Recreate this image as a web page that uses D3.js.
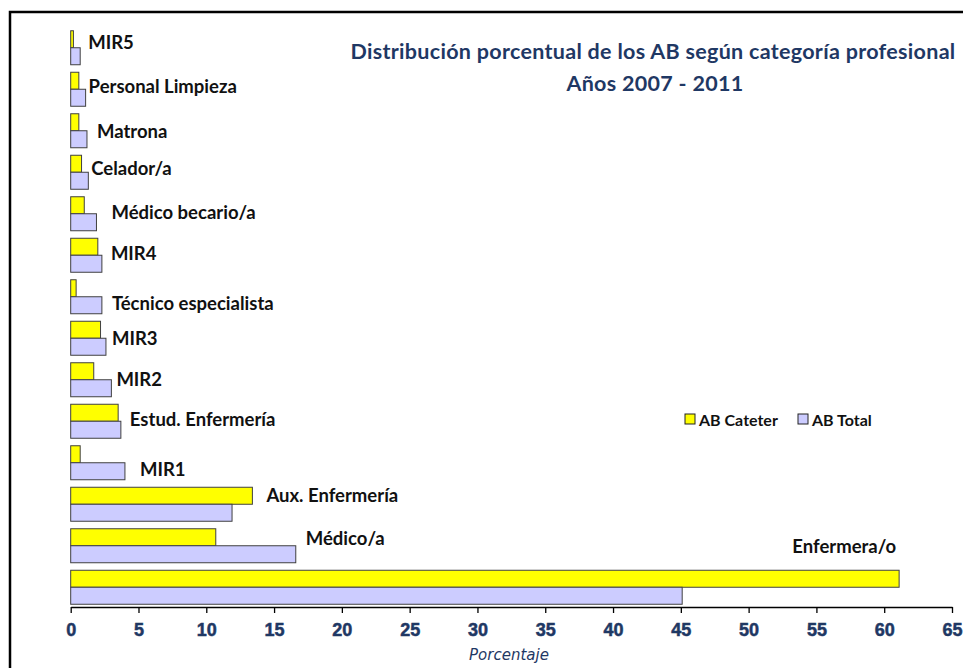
<!DOCTYPE html>
<html>
<head>
<meta charset="utf-8">
<script src="https://cdn.jsdelivr.net/npm/d3@7/dist/d3.min.js"></script>
<style>
  html, body { margin: 0; padding: 0; background: #fff; }
  svg { display: block; }
</style>
</head>
<body>
<svg id="chart" width="963" height="668"></svg>
<script>
// Professional categories, listed top to bottom
const categories = [
  "MIR5", "Personal Limpieza", "Matrona", "Celador/a", "Médico becario/a",
  "MIR4", "Técnico especialista", "MIR3", "MIR2", "Estud. Enfermería",
  "MIR1", "Aux. Enfermería", "Médico/a", "Enfermera/o"
];
// Percentage of catheter-related infections (AB Cateter)
const abCateter = [0.2, 0.6, 0.6, 0.8, 1.0, 2.0, 0.4, 2.2, 1.7, 3.5, 0.7, 13.4, 10.7, 61.1];
// Percentage of all infections (AB Total)
const abTotal   = [0.7, 1.1, 1.2, 1.3, 1.9, 2.3, 2.3, 2.6, 3.0, 3.7, 4.0, 11.9, 16.6, 45.1];
const seriesNames = ["AB Cateter", "AB Total"];
const xTicks = [0, 5, 10, 15, 20, 25, 30, 35, 40, 45, 50, 55, 60, 65];

// Hand placement of the category labels (offsets from the default spot)
const labelNudge = {
  "MIR5": [-1, -6], "Personal Limpieza": [-6, -3], "Matrona": [1, 0],
  "Celador/a": [-6, -4], "Médico becario/a": [6, -2], "MIR4": [0, -2],
  "Técnico especialista": [1, 6], "MIR3": [-3, 0], "MIR2": [-4, -1],
  "Estud. Enfermería": [0, -2], "MIR1": [6, 6], "Aux. Enfermería": [5, -9],
  "Médico/a": [1, -8]
};

const svg = d3.select("#chart");
const navy = "#1F3864";
const colors = ["#FFFF00", "#CCCCFF"];
const textFont = "Lato, 'Open Sans', sans-serif";

// Outer frame
svg.append("rect")
  .attr("x", 10).attr("y", 12)
  .attr("width", 1000).attr("height", 700)
  .attr("fill", "none").attr("stroke", "#000").attr("stroke-width", 2.5);

const x = d3.scaleLinear().domain([0, 65]).range([70.7, 952]);
const y = d3.scaleBand().domain(categories).range([27, 608]).padding(0);
const barH = 17;
const axisY = 607;

const rows = categories.map((c, i) => ({ cat: c, vals: [abCateter[i], abTotal[i]] }));

const g = svg.append("g");
rows.forEach(r => {
  const cy = y(r.cat) + y.bandwidth() / 2;
  r.vals.forEach((v, k) => {
    g.append("rect")
      .attr("x", x(0))
      .attr("y", cy - barH + k * barH)
      .attr("width", x(v) - x(0))
      .attr("height", barH)
      .attr("fill", colors[k])
      .attr("stroke", "#404040")
      .attr("stroke-width", 1);
  });
});

// Category labels
rows.forEach(r => {
  const cy = y(r.cat) + y.bandwidth() / 2;
  const t = svg.append("text")
    .text(r.cat)
    .attr("font-family", textFont)
    .attr("font-weight", "bold")
    .attr("font-size", 18.5)
    .attr("fill", "#111")
    .attr("dominant-baseline", "central");
  if (labelNudge[r.cat]) {
    const [dx, dy] = labelNudge[r.cat];
    t.attr("x", x(d3.max(r.vals)) + 9 + dx).attr("y", cy + dy);
  } else {
    // label sits above the bar, flush with its end
    t.attr("text-anchor", "end").attr("x", x(d3.max(r.vals)) - 3).attr("y", cy - 41);
  }
});

// X axis
const axis = svg.append("g")
  .attr("transform", `translate(0,${axisY})`)
  .call(d3.axisBottom(x).tickValues(xTicks).tickSize(6).tickSizeOuter(0).tickPadding(10));
axis.select(".domain").attr("stroke", "#000").attr("stroke-width", 1.3);
axis.selectAll(".tick line").attr("stroke", "#000").attr("stroke-width", 1.3);
axis.selectAll(".tick text")
  .attr("font-family", "'Liberation Sans Narrow', 'Liberation Sans', sans-serif")
  .attr("font-weight", "bold")
  .attr("font-size", 18)
  .attr("stroke", navy).attr("stroke-width", 0.5)
  .attr("fill", navy);

svg.append("text")
  .text("Porcentaje")
  .attr("x", 509).attr("y", 660)
  .attr("text-anchor", "middle")
  .attr("font-family", "'DejaVu Sans', sans-serif")
  .attr("font-style", "italic")
  .attr("font-size", 15)
  .attr("fill", navy);

// Title
const title = svg.append("text")
  .attr("text-anchor", "middle")
  .attr("font-family", textFont)
  .attr("font-weight", "bold")
  .attr("font-size", 21.5)
  .attr("letter-spacing", 0.3)
  .attr("fill", navy);
title.append("tspan").attr("x", 653).attr("y", 59)
  .text("Distribución porcentual de los AB según categoría profesional");
title.append("tspan").attr("x", 655).attr("y", 91)
  .text("Años 2007 - 2011");

// Legend
const legendItems = [
  { name: seriesNames[0], color: colors[0], sx: 685, tx: 699 },
  { name: seriesNames[1], color: colors[1], sx: 798, tx: 812 }
];
legendItems.forEach(it => {
  svg.append("rect")
    .attr("x", it.sx).attr("y", 414).attr("width", 10).attr("height", 10)
    .attr("fill", it.color).attr("stroke", "#222").attr("stroke-width", 1);
  svg.append("text")
    .text(it.name)
    .attr("x", it.tx).attr("y", 419)
    .attr("dominant-baseline", "central")
    .attr("font-family", textFont)
    .attr("font-weight", "bold")
    .attr("font-size", 16)
    .attr("fill", "#111");
});
</script>
</body>
</html>
